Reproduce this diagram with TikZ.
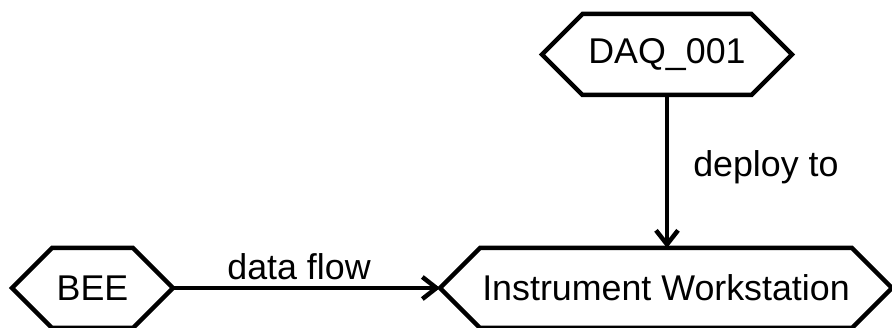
\documentclass[tikz,border=0pt]{standalone}
\usepackage{fontspec}
\setmainfont{Liberation Sans}
\usetikzlibrary{shapes.symbols,arrows.meta}
\begin{document}
\begin{tikzpicture}[x=1pt,y=-1pt,
  hexnode/.style={shape=signal, signal to=west and east, signal pointer angle=90,
    draw, line width=4.5pt, outer sep=0pt, inner sep=0pt,
    font=\fontsize{35.8}{43}\selectfont},
  flow/.style={line width=4.5pt, -{Straight Barb[length=14pt,width=22pt]}},
  lbl/.style={font=\fontsize{35.8}{43}\selectfont, inner sep=0pt}]
\useasboundingbox (0,0) rectangle (892,328);
\node[hexnode, minimum width=161pt, minimum height=80pt] (bee) at (92.5,288) {BEE};
\node[hexnode, minimum width=250pt, minimum height=81pt] (daq) at (667,54.5) {DAQ\_001};
\node[hexnode, minimum width=452pt, minimum height=80pt] (ws) at (666,288) {Instrument Workstation};
\draw[flow] (bee.east) -- (ws.west)
  node[lbl, pos=0.472, anchor=base, yshift=8pt] {data flow};
\draw[flow] (daq.south) -- (daq.south |- ws.north)
  node[lbl, pos=0.53, anchor=base west, xshift=24pt] {deploy to};
\end{tikzpicture}
\end{document}
